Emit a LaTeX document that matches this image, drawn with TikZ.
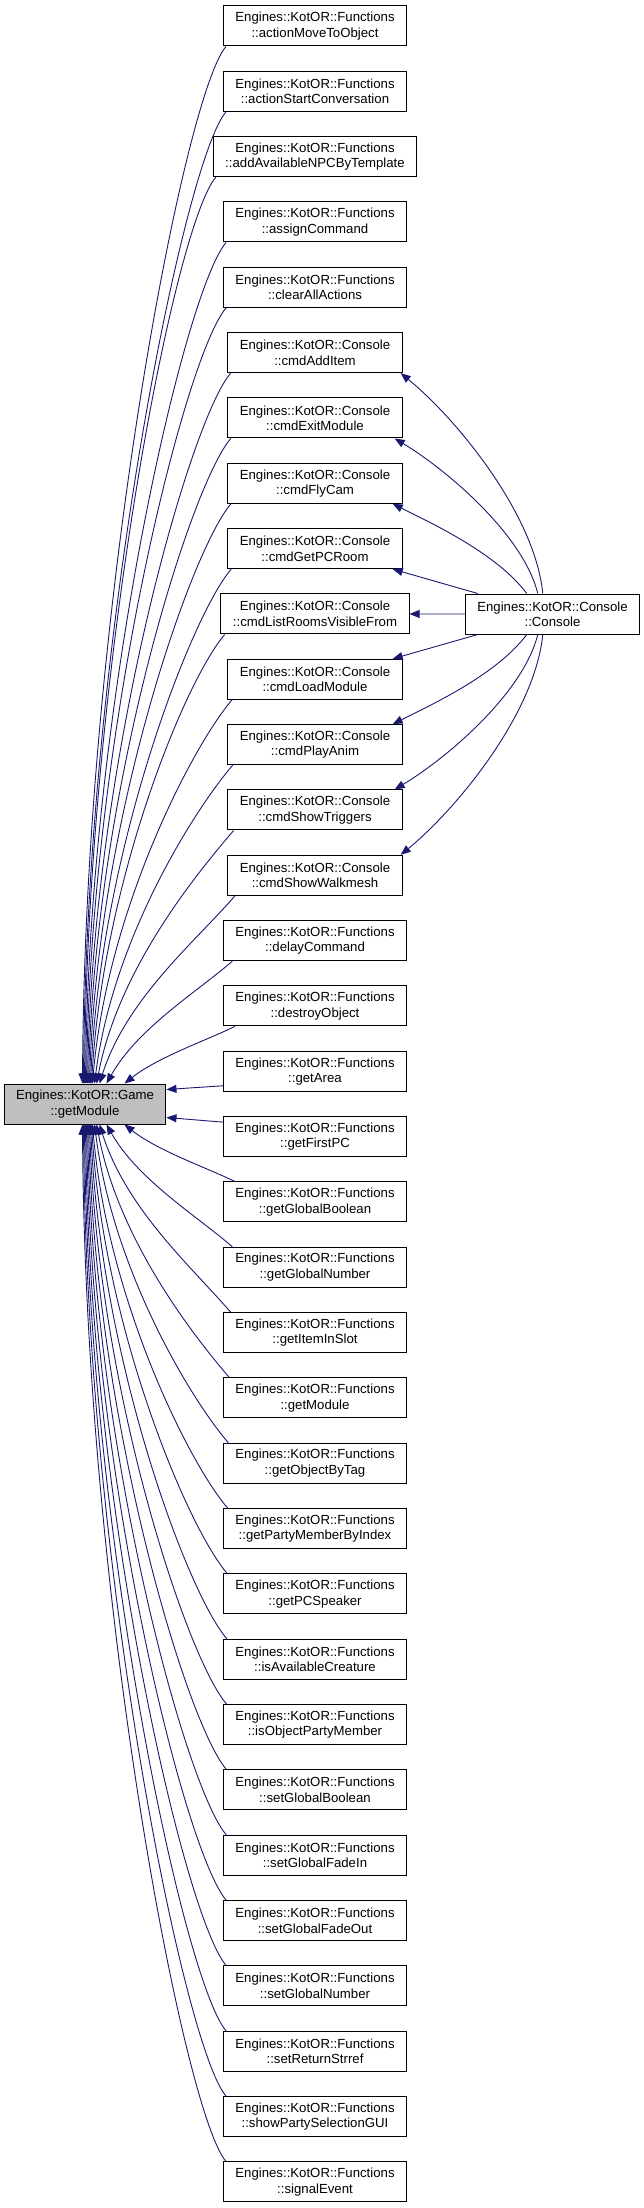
\documentclass[tikz,border=0pt]{standalone}
\usepackage{fontspec}
\setmainfont{Liberation Sans}
\usetikzlibrary{arrows.meta,calc}
\definecolor{midnightblue}{RGB}{25,25,112}

\begin{document}
\begin{tikzpicture}[x=1pt, y=-1pt,
		box/.style={draw=black, line width=1pt, fill=white, align=center, minimum height=40pt,
			inner xsep=12pt, inner ysep=0pt, font=\fontsize{13.2}{15.4}\selectfont},
		edge/.style={draw=midnightblue, line width=0.9pt, ->},
		>={Triangle[length=10pt,width=8pt]}]
		\useasboundingbox (0, 0) rectangle (643, 2208);

		\node[box, fill=gray!50] (getmod) at (85, 1104) {Engines::KotOR::Game\\::getModule};
		\node[box] (console) at (552.5, 614) {Engines::KotOR::Console\\::Console};

		\foreach \cls/\fn [count=\i from 0] in {Functions/actionMoveToObject, Functions/actionStartConversation,
				Functions/addAvailableNPCByTemplate, Functions/assignCommand, Functions/clearAllActions,
				Console/cmdAddItem, Console/cmdExitModule, Console/cmdFlyCam, Console/cmdGetPCRoom,
				Console/cmdListRoomsVisibleFrom, Console/cmdLoadModule, Console/cmdPlayAnim,
				Console/cmdShowTriggers, Console/cmdShowWalkmesh, Functions/delayCommand,
				Functions/destroyObject, Functions/getArea, Functions/getFirstPC, Functions/getGlobalBoolean,
				Functions/getGlobalNumber, Functions/getItemInSlot, Functions/getModule,
				Functions/getObjectByTag, Functions/getPartyMemberByIndex, Functions/getPCSpeaker,
				Functions/isAvailableCreature, Functions/isObjectPartyMember, Functions/setGlobalBoolean,
				Functions/setGlobalFadeIn, Functions/setGlobalFadeOut, Functions/setGlobalNumber,
				Functions/setReturnStrref, Functions/showPartySelectionGUI, Functions/signalEvent} {
			\node[box] (n\i) at (315, {26 + 65.33*\i}) {Engines::KotOR::\cls\\::\fn};
		}

		\foreach \i/\ex in {0/84, 1/85, 2/86, 3/87, 4/88, 5/89, 6/90, 7/91, 8/92, 9/93, 10/94,
				11/96, 12/98, 13/101, 14/108, 15/126} {
			\pgfmathsetmacro\dy{1084 - 46 - 65.33*\i}
			\pgfmathsetmacro\dx{226 - \ex}
			\pgfmathsetmacro\sx{3 + 12*exp(-\dy/200)}
			\pgfmathsetmacro\ca{min(0.35*\dx, 0.25*\dy)}
			\pgfmathsetmacro\cb{0.4*\dx*exp(-\dy/300)}
			\draw[edge] ($(n\i.south west)+(\sx,0)$) .. controls +({-0.3*\dx},{\ca}) and +({\cb},{-0.45*\dy})
				.. ($(getmod.north west)+(\ex-5,0)$);
		}

		\foreach \i/\ex in {18/126, 19/108, 20/101, 21/98, 22/96, 23/94, 24/93, 25/92, 26/91, 27/90,
				28/89, 29/88, 30/87, 31/86, 32/85, 33/84} {
			\pgfmathsetmacro\dy{6 + 65.33*\i - 1124}
			\pgfmathsetmacro\dx{226 - \ex}
			\pgfmathsetmacro\sx{3 + 12*exp(-\dy/200)}
			\pgfmathsetmacro\ca{min(0.35*\dx, 0.25*\dy)}
			\pgfmathsetmacro\cb{0.4*\dx*exp(-\dy/300)}
			\draw[edge] ($(n\i.north west)+(\sx,0)$) .. controls +({-0.3*\dx},{-\ca}) and +({\cb},{0.45*\dy})
				.. ($(getmod.south west)+(\ex-5,0)$);
		}

		\draw[edge] ($(n16.south west)+(0,-6)$) -- ($(getmod.north east)+(0,6)$);
		\draw[edge] ($(n17.north west)+(0,6)$) -- ($(getmod.south east)+(0,-7)$);

		\draw[edge] ($(console.north west)+(78,0)$) .. controls +(-8,-80) and +(55,45) .. ($(n5.south east)+(-2,0)$);
		\draw[edge] ($(console.north west)+(73,0)$) .. controls +(-15,-60) and +(50,30) .. ($(n6.south east)+(-8,0)$);
		\draw[edge] ($(console.north west)+(62,0)$) .. controls +(-30,-40) and +(40,20) .. ($(n7.south east)+(-10,0)$);
		\draw[edge] ($(console.north west)+(13,0)$) -- ($(n8.south east)+(-10,0)$);
		\draw[edge] (console.west) -- (n9.east);
		\draw[edge] ($(console.south west)+(13,0)$) -- ($(n10.north east)+(-10,0)$);
		\draw[edge] ($(console.south west)+(62,0)$) .. controls +(-30,40) and +(40,-20) .. ($(n11.north east)+(-10,0)$);
		\draw[edge] ($(console.south west)+(73,0)$) .. controls +(-15,60) and +(50,-30) .. ($(n12.north east)+(-8,0)$);
		\draw[edge] ($(console.south west)+(78,0)$) .. controls +(-8,80) and +(55,-45) .. ($(n13.north east)+(-2,0)$);
	\end{tikzpicture}
\end{document}
